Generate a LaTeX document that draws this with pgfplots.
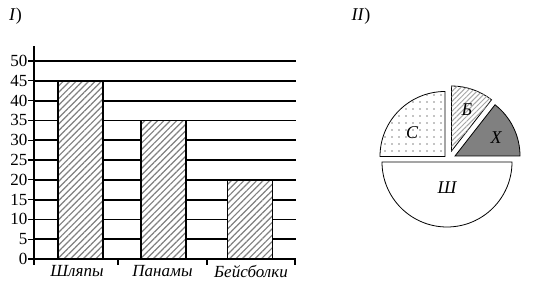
\documentclass[border=0pt]{standalone}
\usepackage{fontspec}
\setmainfont{Liberation Serif}
\usepackage{pgfplots}
\pgfplotsset{compat=1.18}
\usetikzlibrary{patterns.meta}
% pie sectors (angles in degrees)
\def\xS{0}\def\xE{52}      % X
\def\bS{52}\def\bE{90}     % B
\def\cS{90}\def\cE{180}    % C
\def\shS{180}\def\shE{360} % Sh
\def\R{65}
\begin{document}
\begin{tikzpicture}[x=1pt,y=1pt]
\path[use as bounding box] (0,0) rectangle (534,291);
\node[font=\fontsize{18}{20}\selectfont] at (15.5,274.5) {\textit{I})};
\node[font=\fontsize{18}{20}\selectfont] at (361,274.5) {\textit{II})};
\begin{axis}[
 at={(34pt,32pt)}, anchor=south west, scale only axis, width=262pt, height=213pt,
 xmin=34, xmax=296, ymin=0, ymax=53.8,
 axis x line*=bottom, axis y line*=left, axis line style={-, black, line width=1.6pt},
 ytick={0,5,...,50}, ymajorgrids, major grid style={black, line width=1.8pt},
 tick style={black, line width=1.3pt}, tick align=outside, major tick length=6pt,
 xtick={34,118,207,295}, xticklabels={},
 extra x ticks={77,162.5,251},
 extra x tick labels={\textit{Шляпы},\textit{Панамы},\textit{Бейсболки}},
 extra x tick style={major tick length=0pt, grid=none, xticklabel style={yshift=-3pt}},
 tick label style={font=\fontsize{17}{18}\selectfont},
 /pgf/number format/assume math mode=true,
 yticklabel style={inner sep=0.5pt},
]
\addplot[ybar, bar width=45pt, draw=black, line width=1.4pt, fill=white,
  postaction={pattern={Lines[angle=45,distance=4.5pt,line width=1.2pt]}, pattern color=gray}]
  coordinates {(80.5,45)(163.5,35)(250,20)};
\end{axis}
\begin{axis}[
 at={(0pt,0pt)}, anchor=south west, scale only axis, width=534pt, height=291pt,
 xmin=0, xmax=534, ymin=0, ymax=291, hide axis, clip=false]
% Sh (white, half)
\filldraw[fill=white, draw=black, line width=0.8pt]
  (axis cs:447,129) -- ++(\shS:\R pt) arc[start angle=\shS, end angle=\shE, radius=\R pt] -- cycle;
% C (dotted)
\filldraw[fill=white, draw=black, line width=0.8pt,
  postaction={pattern={Dots[distance=7pt,radius=0.6pt]}, pattern color=black}]
  (axis cs:445,134.5) -- ++(\cS:\R pt) arc[start angle=\cS, end angle=\cE, radius=\R pt] -- cycle;
% B (hatched)
\filldraw[fill=white, draw=black, line width=0.8pt,
  postaction={pattern={Lines[angle=45,distance=3.5pt,line width=1pt]}, pattern color=gray!70}]
  (axis cs:451.5,140) -- ++(\bS:\R pt) arc[start angle=\bS, end angle=\bE, radius=\R pt] -- cycle;
% X (dark grey)
\filldraw[fill=gray, draw=black, line width=0.8pt]
  (axis cs:455,135) -- ++(\xS:\R pt) arc[start angle=\xS, end angle=\xE, radius=\R pt] -- cycle;
\node[font=\fontsize{18}{20}\selectfont\itshape] at (axis cs:412,158) {С};
\node[font=\fontsize{18}{20}\selectfont\itshape] at (axis cs:467,181) {Б};
\node[font=\fontsize{18}{20}\selectfont\itshape] at (axis cs:496,153) {Х};
\node[font=\fontsize{18}{20}\selectfont\itshape] at (axis cs:447,103) {Ш};
\end{axis}
\end{tikzpicture}
\end{document}
